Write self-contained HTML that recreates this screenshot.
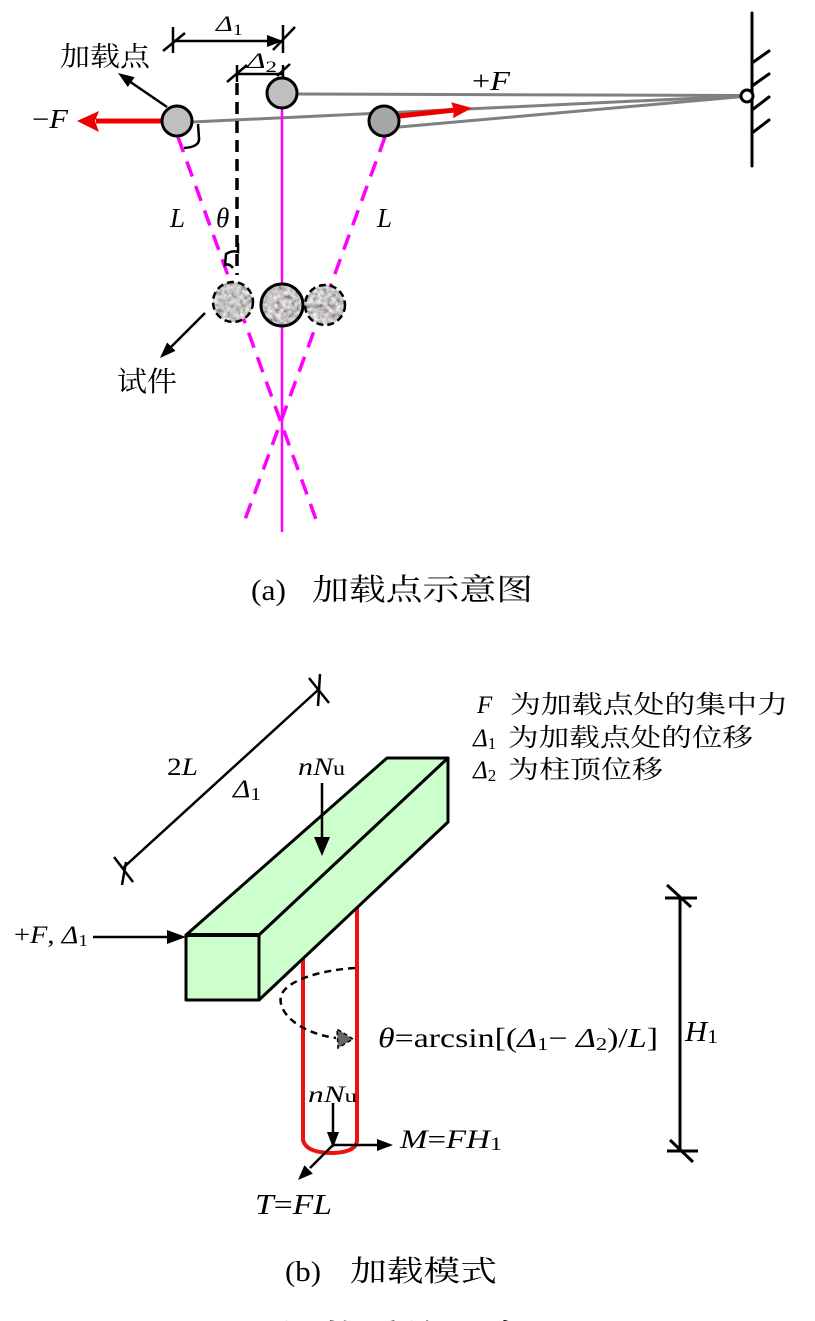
<!DOCTYPE html>
<html>
<head>
<meta charset="utf-8">
<style>
  html, body { margin: 0; padding: 0; background: #ffffff; }
  body { width: 815px; height: 1321px; overflow: hidden; }
  svg { display: block; }
  .ser { font-family: "Liberation Serif", "Noto Serif CJK SC", serif; }
  .cjk { font-family: "Liberation Serif", "Noto Serif CJK SC", serif; }
  .it { font-style: italic; }
</style>
</head>
<body>
<svg width="815" height="1321" viewBox="0 0 815 1321" xmlns="http://www.w3.org/2000/svg">
  <defs>
    <filter id="grain" x="0%" y="0%" width="100%" height="100%">
      <feTurbulence type="fractalNoise" baseFrequency="0.22" numOctaves="3" seed="7" result="n"/>
      <feColorMatrix in="n" type="matrix"
        values="1.1 0 0 0 0.02  1.1 0 0 0 0.0  1.1 0 0 0 0.0  0 0 0 0 1" result="g"/>
      <feComposite in="g" in2="SourceAlpha" operator="in"/>
    </filter>
  </defs>

  <!-- ================= PART (a) ================= -->

  <!-- wall -->
  <g stroke="#000" stroke-width="3" fill="none" stroke-linecap="round">
    <line x1="752" y1="13" x2="752" y2="166"/>
    <line x1="752" y1="63" x2="769" y2="51"/>
    <line x1="752" y1="86" x2="769" y2="74"/>
    <line x1="752" y1="110" x2="769" y2="97"/>
    <line x1="752" y1="133" x2="769" y2="120"/>
  </g>

  <!-- gray cables -->
  <g stroke="#808080" stroke-width="3" fill="none">
    <line x1="296" y1="94" x2="743" y2="95.5"/>
    <line x1="192" y1="122" x2="743" y2="96"/>
    <line x1="399" y1="127" x2="743" y2="96.5"/>
  </g>
  <circle cx="747" cy="96" r="6" fill="#fff" stroke="#000" stroke-width="3"/>

  <!-- magenta lines -->
  <line x1="282" y1="108" x2="282" y2="532" stroke="#ff00ff" stroke-width="2.5"/>
  <g stroke="#ff00ff" stroke-width="3.5" stroke-dasharray="16 10" fill="none">
    <line x1="178" y1="137" x2="318" y2="525"/>
    <line x1="385" y1="137" x2="243" y2="525"/>
  </g>

  <!-- black dashed vertical -->
  <line x1="237" y1="83" x2="237" y2="275" stroke="#000" stroke-width="3.5" stroke-dasharray="12 7"/>
  <path d="M238,243 L238,252 Q232,250 226,254 L225,265 Q229,263 233,268" stroke="#000" stroke-width="2.5" fill="none"/>

  <!-- angle bracket at left circle -->
  <path d="M198,124 L199,138 Q200,147 184,148" stroke="#000" stroke-width="2.5" fill="none"/>

  <!-- dimension Δ1 -->
  <g stroke="#000" stroke-width="2.5" fill="none">
    <line x1="173" y1="41" x2="270" y2="41"/>
    <line x1="173" y1="27" x2="173" y2="53"/>
    <line x1="163" y1="51" x2="185" y2="33"/>
    <line x1="283" y1="25" x2="283" y2="53"/>
    <line x1="273" y1="50" x2="295" y2="27"/>
    <!-- Δ2 -->
    <line x1="237" y1="74" x2="283" y2="74"/>
    <line x1="237" y1="65" x2="237" y2="82"/>
    <line x1="227" y1="82" x2="247" y2="65"/>
    <line x1="283" y1="65" x2="283" y2="85"/>
    <line x1="277" y1="76" x2="290" y2="64"/>
  </g>
  <polygon points="283,41 267,35 267,47" fill="#000"/>

  <!-- 加载点 arrow -->
  <line x1="167" y1="107" x2="129" y2="81" stroke="#000" stroke-width="2.5"/>
  <polygon points="118,73 134.6,77.2 127.8,87.0" fill="#000"/>

  <!-- red arrows -->
  <line x1="163" y1="121" x2="96" y2="121" stroke="#ee0000" stroke-width="5"/>
  <polygon points="77,121 99,111 95,121 99,132" fill="#ee0000"/>
  <line x1="399" y1="116" x2="455" y2="110" stroke="#ee0000" stroke-width="5"/>
  <polygon points="472,108 451.2,102.2 454,110 453.0,118.1" fill="#ee0000"/>

  <!-- loading point circles -->
  <circle cx="177" cy="121" r="15" fill="#bfbfbf" stroke="#000" stroke-width="3"/>
  <circle cx="282" cy="93" r="15" fill="#bfbfbf" stroke="#000" stroke-width="3"/>
  <circle cx="384" cy="121" r="15" fill="#a6a6a6" stroke="#000" stroke-width="3"/>

  <!-- specimens -->
  <circle cx="233" cy="302" r="20" fill="#999" filter="url(#grain)"/>
  <circle cx="325" cy="305" r="20" fill="#999" filter="url(#grain)"/>
  <circle cx="282" cy="305" r="21" fill="#999" filter="url(#grain)"/>
  <circle cx="233" cy="302" r="20" fill="none" stroke="#000" stroke-width="2.5" stroke-dasharray="7 4"/>
  <circle cx="325" cy="305" r="20" fill="none" stroke="#000" stroke-width="2.5" stroke-dasharray="7 4"/>
  <circle cx="282" cy="305" r="21" fill="none" stroke="#000" stroke-width="3"/>

  <!-- 试件 arrow -->
  <line x1="205" y1="313" x2="170" y2="348" stroke="#000" stroke-width="2.5"/>
  <polygon points="160,358 175.5,350.9 167.1,342.5" fill="#000"/>

  <!-- labels (a) -->
  <text class="ser" x="216" y="31" font-size="22" textLength="27" lengthAdjust="spacingAndGlyphs"><tspan class="it">Δ</tspan><tspan font-size="16" dy="4">1</tspan></text>
  <text class="ser" x="247" y="68" font-size="22" textLength="30" lengthAdjust="spacingAndGlyphs"><tspan class="it">Δ</tspan><tspan font-size="16" dy="4">2</tspan></text>
  <text class="cjk" x="60" y="66" font-size="27" textLength="90" lengthAdjust="spacingAndGlyphs">加载点</text>
  <text class="ser" x="32" y="128" font-size="27" textLength="36" lengthAdjust="spacingAndGlyphs">−<tspan class="it">F</tspan></text>
  <text class="ser" x="472" y="90" font-size="27" textLength="38" lengthAdjust="spacingAndGlyphs">+<tspan class="it">F</tspan></text>
  <text class="ser it" x="170" y="227" font-size="27">L</text>
  <text class="ser it" x="216" y="227" font-size="27">θ</text>
  <text class="ser it" x="377" y="227" font-size="27">L</text>
  <text class="cjk" x="117" y="391" font-size="28" textLength="60" lengthAdjust="spacingAndGlyphs">试件</text>

  <!-- caption (a) -->
  <text class="ser" x="251" y="600" font-size="30" textLength="35" lengthAdjust="spacingAndGlyphs">(a)</text>
  <text class="cjk" x="312" y="600" font-size="30" textLength="221" lengthAdjust="spacingAndGlyphs">加载点示意图</text>

  <!-- ================= PART (b) ================= -->

  <!-- 2L dimension -->
  <g stroke="#000" stroke-width="2.5" fill="none">
    <line x1="123" y1="868" x2="318" y2="690"/>
    <line x1="114" y1="857" x2="133" y2="882"/>
    <line x1="126" y1="862" x2="122" y2="885"/>
    <line x1="309" y1="678" x2="329" y2="703"/>
    <line x1="320" y1="674" x2="318" y2="706"/>
  </g>

  <!-- red column -->
  <path d="M303,958 L303,1140 Q306,1153 333,1153 Q357,1152 357,1140 L357,906" stroke="#ee1111" stroke-width="4" fill="none"/>

  <!-- box -->
  <g stroke="#000" stroke-width="3" stroke-linejoin="round" fill="#ccffcc">
    <polygon points="186,935 259,935 448,758 387,758"/>
    <polygon points="259,935 448,758 448,822 259,1000"/>
    <rect x="186" y="935" width="73" height="65"/>
  </g>
  <line x1="186" y1="935" x2="259" y2="935" stroke="#000" stroke-width="4"/>

  <!-- dashed rotation arc -->
  <path d="M355,968 C322,970 286,980 281,996 C277,1013 300,1033 336,1038" stroke="#000" stroke-width="2.5" stroke-dasharray="7 5" fill="none"/>
  <polygon points="353,1039 337,1029 338,1048" fill="#666" stroke="#000" stroke-width="1.5" stroke-dasharray="4 3"/>

  <!-- nNu top arrow -->
  <line x1="322" y1="783" x2="322" y2="842" stroke="#000" stroke-width="2.5"/>
  <polygon points="322,856 314,837 330,837" fill="#000"/>

  <!-- +F arrow -->
  <line x1="93" y1="937" x2="170" y2="937" stroke="#000" stroke-width="2.5"/>
  <polygon points="186,937 167,930 167,944" fill="#000"/>

  <!-- H1 dimension -->
  <g stroke="#000" stroke-width="3" fill="none">
    <line x1="680" y1="898" x2="680" y2="1151"/>
    <line x1="665" y1="898" x2="697" y2="898"/>
    <line x1="667" y1="885" x2="691" y2="907"/>
    <line x1="667" y1="1151" x2="698" y2="1151"/>
    <line x1="670" y1="1140" x2="693" y2="1162"/>
  </g>

  <!-- bottom arrows -->
  <line x1="333" y1="1103" x2="333" y2="1135" stroke="#000" stroke-width="2.5"/>
  <polygon points="333,1148 327,1132 339,1132" fill="#000"/>
  <line x1="333" y1="1145" x2="378" y2="1145" stroke="#000" stroke-width="2.5"/>
  <polygon points="393,1145 377,1139 377,1151" fill="#000"/>
  <line x1="333" y1="1145" x2="310" y2="1168" stroke="#000" stroke-width="2.5"/>
  <polygon points="298,1180 312.8,1173.6 304.4,1165.2" fill="#000"/>

  <!-- labels (b) -->
  <text class="ser" x="167" y="775" font-size="25" textLength="31" lengthAdjust="spacingAndGlyphs">2<tspan class="it">L</tspan></text>
  <text class="ser" x="233" y="797" font-size="25" textLength="28" lengthAdjust="spacingAndGlyphs"><tspan class="it">Δ</tspan><tspan font-size="18" dy="3">1</tspan></text>
  <text class="ser" x="298" y="775" font-size="25" textLength="47" lengthAdjust="spacingAndGlyphs"><tspan class="it">nN</tspan><tspan font-size="20">u</tspan></text>
  <text class="ser" x="14" y="943" font-size="25" textLength="74" lengthAdjust="spacingAndGlyphs">+<tspan class="it">F</tspan>, <tspan class="it">Δ</tspan><tspan font-size="17" dy="3">1</tspan></text>
  <text class="ser" x="378" y="1047" font-size="27" textLength="280" lengthAdjust="spacingAndGlyphs"><tspan class="it">θ</tspan>=arcsin[(<tspan class="it">Δ</tspan><tspan font-size="18" dy="3">1</tspan><tspan dy="-3">− </tspan><tspan class="it">Δ</tspan><tspan font-size="18" dy="3">2</tspan><tspan dy="-3">)/</tspan><tspan class="it">L</tspan>]</text>
  <text class="ser" x="685" y="1041" font-size="28" textLength="33" lengthAdjust="spacingAndGlyphs"><tspan class="it">H</tspan><tspan font-size="20" dy="2">1</tspan></text>
  <text class="ser" x="308" y="1102" font-size="23" textLength="49" lengthAdjust="spacingAndGlyphs"><tspan class="it">nN</tspan><tspan font-size="18">u</tspan></text>
  <text class="ser" x="400" y="1148" font-size="26" textLength="102" lengthAdjust="spacingAndGlyphs"><tspan class="it">M</tspan>=<tspan class="it">FH</tspan><tspan font-size="19" dy="2">1</tspan></text>
  <text class="ser" x="255" y="1214" font-size="28" textLength="77" lengthAdjust="spacingAndGlyphs"><tspan class="it">T</tspan>=<tspan class="it">FL</tspan></text>

  <!-- legend -->
  <text class="ser it" x="477" y="713" font-size="25">F</text>
  <text class="cjk" x="510" y="713" font-size="25" textLength="278" lengthAdjust="spacingAndGlyphs">为加载点处的集中力</text>
  <text class="ser" x="473" y="746" font-size="25"><tspan class="it">Δ</tspan><tspan font-size="17" dy="3">1</tspan></text>
  <text class="cjk" x="508" y="746" font-size="25" textLength="245" lengthAdjust="spacingAndGlyphs">为加载点处的位移</text>
  <text class="ser" x="473" y="778" font-size="25"><tspan class="it">Δ</tspan><tspan font-size="17" dy="3">2</tspan></text>
  <text class="cjk" x="508" y="778" font-size="25" textLength="155" lengthAdjust="spacingAndGlyphs">为柱顶位移</text>

  <!-- caption (b) -->
  <text class="ser" x="285" y="1281" font-size="29" textLength="36" lengthAdjust="spacingAndGlyphs">(b)</text>
  <text class="cjk" x="350" y="1281" font-size="29" textLength="147" lengthAdjust="spacingAndGlyphs">加载模式</text>

  <!-- cut-off figure caption at bottom -->
  <text class="cjk" x="193" y="1346" font-size="30" textLength="377" lengthAdjust="spacingAndGlyphs">图 3  加载系统示意图</text>
</svg>
</body>
</html>
